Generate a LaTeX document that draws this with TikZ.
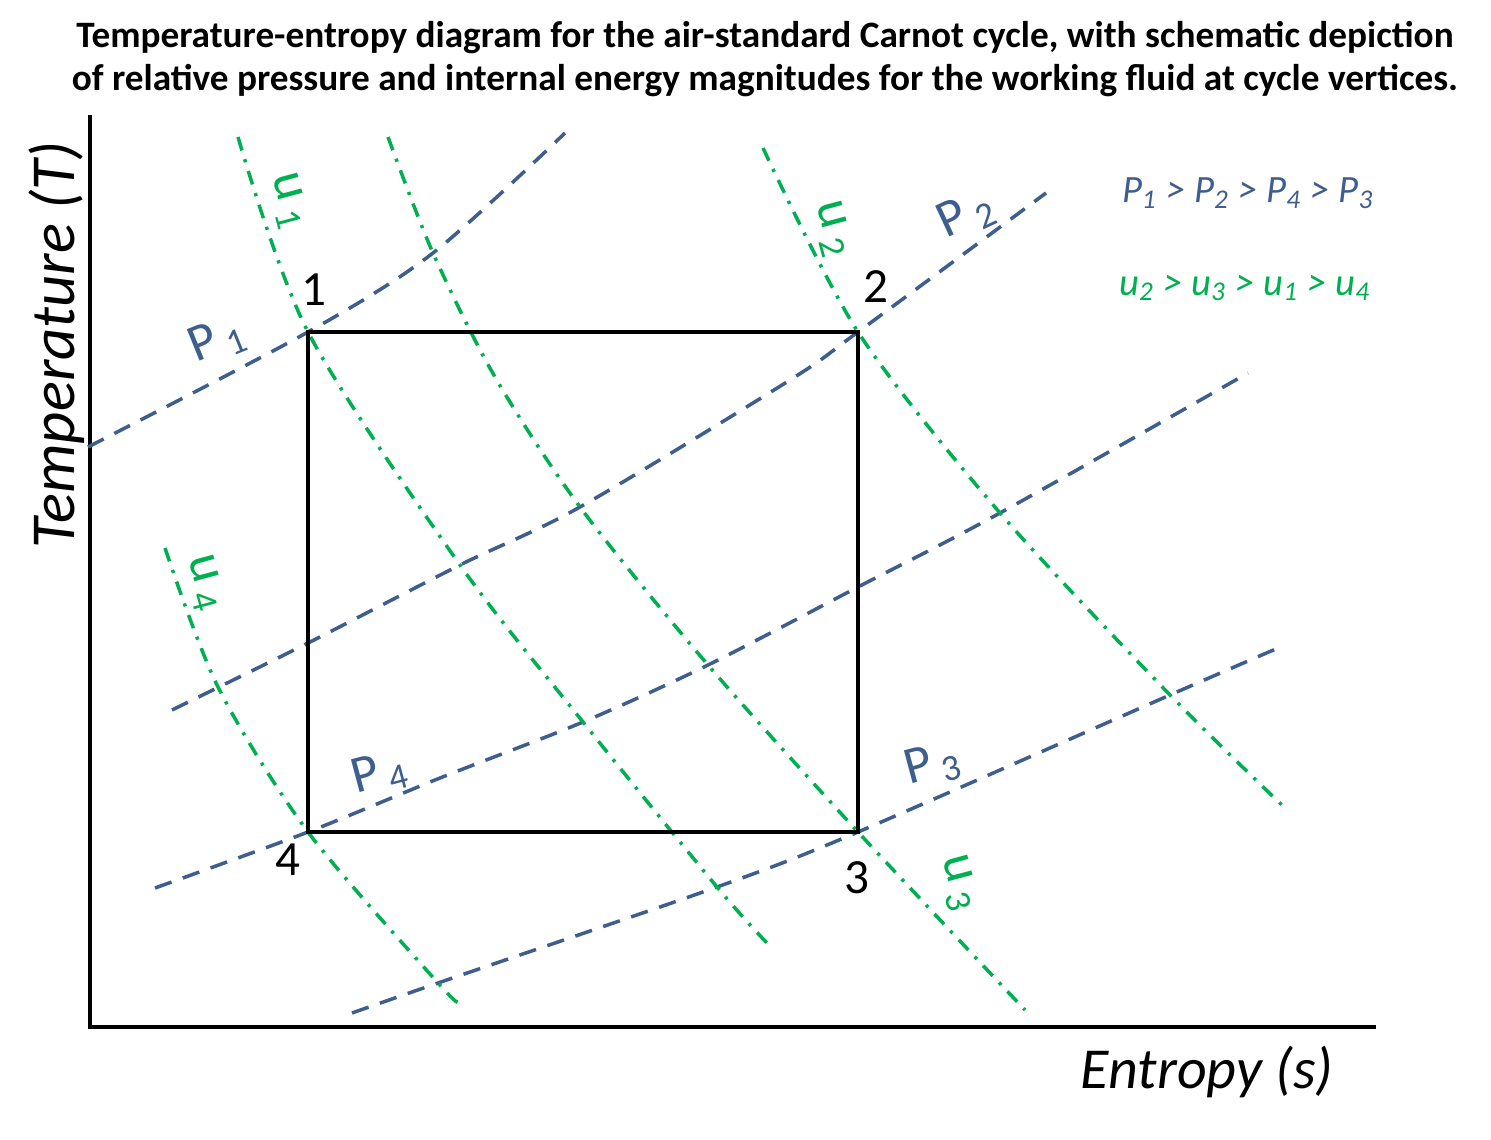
\documentclass[tikz,border=0pt]{standalone}
\usepackage{fontspec}
\setmainfont{Carlito}
\definecolor{isoblue}{HTML}{3E5F8E}
\definecolor{isogreen}{HTML}{00B050}
\tikzset{
  isobar/.style={isoblue, line width=1pt, dash pattern=on 5pt off 3.4pt},
  isoenergy/.style={isogreen, line width=1pt, dash pattern=on 4pt off 2.6pt on 0.9pt off 2.6pt},
  cycleline/.style={black, line width=0.9pt},
  vertexlbl/.style={font=\fontsize{14}{16}\selectfont},
  plbl/.style={isoblue, font=\fontsize{15}{17}\selectfont},
  ulbl/.style={isogreen, font=\fontsize{15}{17}\selectfont, rotate=-75}
}
\begin{document}
\begin{tikzpicture}[x=0.1mm, y=-0.1mm]
    \useasboundingbox (0,0) rectangle (1491,1139);
    % Title
    \node[font=\bfseries\fontsize{10.6}{12.2}\selectfont, align=center] (title) at (765,59)
        {Temperature-entropy diagram for the air-standard Carnot cycle, with schematic depiction\\
         of relative pressure and internal energy magnitudes for the working fluid at cycle vertices.};
    % Axes
    \coordinate (top) at (90,115);
    \coordinate (origin) at (90,1027);
    \coordinate (right) at (1376,1027);
    \draw[line width=1.2pt] (top) -- (origin) -- (right);
    \node[rotate=90, font=\itshape\fontsize{17.8}{20}\selectfont] (ylabel) at (57,345) {Temperature (T)};
    \node[font=\itshape\fontsize{16.5}{19}\selectfont] (xlabel) at (1207,1072) {Entropy (s)};
    % Cycle vertices
    \coordinate (v1) at (308,332);
    \coordinate (v2) at (858,332);
    \coordinate (v3) at (858,832);
    \coordinate (v4) at (308,832);
    % Isobars
    \draw[isobar] plot[smooth] coordinates {(88,447) (v1) (433,253) (565,133)};
    \draw[isobar] plot[smooth] coordinates {(172,710) (308,643) (460,565) (580,507) (790,380) (v2) (1046,193)};
    \draw[isobar] plot[smooth] coordinates {(155,888) (v4) (440,778) (583,722) (708,665) (858,587) (1000,513) (1248,373)};
    \draw[isobar] plot[smooth] coordinates {(352,1013) (438,983) (717,887) (v3) (1170,695) (1278,648)};
    % Lines of constant internal energy
    \draw[isoenergy] plot[smooth] coordinates {(238,137) (v1) (460,565) (583,722) (717,887) (767,943)};
    \draw[isoenergy] plot[smooth] coordinates {(388,137) (433,253) (495,377) (580,507) (708,665) (v3) (1025,1010)};
    \draw[isoenergy] plot[smooth] coordinates {(763,148) (v2) (1000,513) (1170,695) (1285,808)};
    \draw[isoenergy] plot[smooth] coordinates {(165,548) (218,687) (v4) (438,983) (458,1002)};
    % Cycle
    \draw[cycleline] (v1) -- (v2) -- (v3) -- (v4) -- cycle;
    \foreach \n/\x/\y in {1/314/290, 2/876/287, 3/857/878, 4/288/860} {
        \node[vertexlbl] (lbl\n) at (\x,\y) {\n};
    }
    % Curve labels
    \node[plbl, rotate=22] (p1) at (218,340) {P\,\textsubscript{1}};
    \node[plbl, rotate=25] (p2) at (967,215) {P\,\textsubscript{2}};
    \node[plbl, rotate=15] (p3) at (933,765) {P\,\textsubscript{3}};
    \node[plbl, rotate=15] (p4) at (380,774) {P\,\textsubscript{4}};
    \node[ulbl] (u1) at (288,202) {u\,\textsubscript{1}};
    \node[ulbl] (u2) at (832,230) {u\,\textsubscript{2}};
    \node[ulbl] (u3) at (958,884) {u\,\textsubscript{3}};
    \node[ulbl] (u4) at (204,584) {u\,\textsubscript{4}};
    % Orderings
    \node[isoblue, font=\itshape\fontsize{11}{13}\selectfont] (porder) at (1248,193)
        {P\textsubscript{1} > P\textsubscript{2} > P\textsubscript{4} > P\textsubscript{3}};
    \node[isogreen, font=\itshape\fontsize{11}{13}\selectfont] (uorder) at (1245,288)
        {u\textsubscript{2} > u\textsubscript{3} > u\textsubscript{1} > u\textsubscript{4}};
\end{tikzpicture}
\end{document}
